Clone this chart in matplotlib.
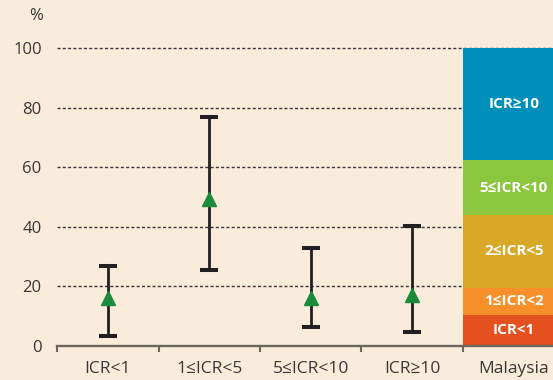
import numpy as np
import matplotlib
matplotlib.use("Agg")
import matplotlib.pyplot as plt

# Kategorien und Werte
categories = ["ICR<1", "1≤ICR<5", "5≤ICR<10", "ICR≥10", "Malaysia"]
point_values = [16, 49.3, 16, 17]
err_low = [3.4, 25.5, 6.5, 4.8]
err_high = [26.8, 77, 33, 40.3]

# Malaysia gestapelt
stack_labels = ["ICR<1", "1≤ICR<2", "2≤ICR<5", "5≤ICR<10", "ICR≥10"]
stack_values = [10.5, 9.1, 24.3, 18.5, 37.6]
stack_colors = ["#e4501f", "#f7902a", "#d9a826", "#8cc63f", "#008fba"]

yticks = [0, 20, 40, 60, 80, 100]

bg = "#f9ecdb"
plt.rcParams['font.family'] = ['Open Sans', 'DejaVu Sans']

fig = plt.figure(figsize=(5.53, 3.80), dpi=100, facecolor=bg)
ax = fig.add_axes([57/553, 1-346/380, 1-57/553, (346-45)/380])
ax.set_facecolor(bg)

x = np.arange(len(categories)) + 0.5

# Gitterlinien
for yv in yticks[1:]:
    ax.axhline(yv, color="#3a3536", lw=1.0, ls=(0, (2.2, 1.6)), zorder=1)

# Fehlerbalken
for i in range(len(point_values)):
    ax.errorbar(x[i], point_values[i],
                yerr=[[point_values[i]-err_low[i]], [err_high[i]-point_values[i]]],
                fmt="none", ecolor="#231f20", elinewidth=2.0, capsize=6.2, capthick=2.9, zorder=3)
ax.plot(x[:4], point_values, ls="none", marker="^", ms=10.5, color="#1a8a3c", zorder=4)

# gestapelter Balken
bottom = 0
for val, col, lab in zip(stack_values, stack_colors, stack_labels):
    ax.bar(x[4], val, width=1.0, bottom=bottom, color=col, zorder=2)
    ax.text(x[4], bottom + val/2, lab, color="white", fontsize=11, fontweight="bold",
            ha="center", va="center", zorder=5)
    bottom += val

ax.set_xlim(0, (553-57)/101.5)
ax.set_ylim(0, 101)
ax.set_yticks(yticks)
ax.tick_params(axis="y", length=0, pad=11, labelsize=12, labelcolor="#3a3536")
ax.set_xticks(x)
ax.set_xticklabels(categories)
ax.set_xticks(np.arange(len(categories)), minor=True)
ax.tick_params(axis="x", which="major", length=0, pad=11, labelsize=12.5, labelcolor="#3a3536")
ax.tick_params(axis="x", which="minor", length=4, width=1.5, color="#6d6560", direction="out")

for s in ["left", "right", "top"]:
    ax.spines[s].set_visible(False)
ax.spines["bottom"].set_color("#6d6560")
ax.spines["bottom"].set_linewidth(1.7)
ax.spines["bottom"].set_zorder(6)

fig.text(36/553, 1-16/380, "%", ha="center", va="center", fontsize=12, color="#3a3536")

fig.savefig("out.png", dpi=100, facecolor=bg)
